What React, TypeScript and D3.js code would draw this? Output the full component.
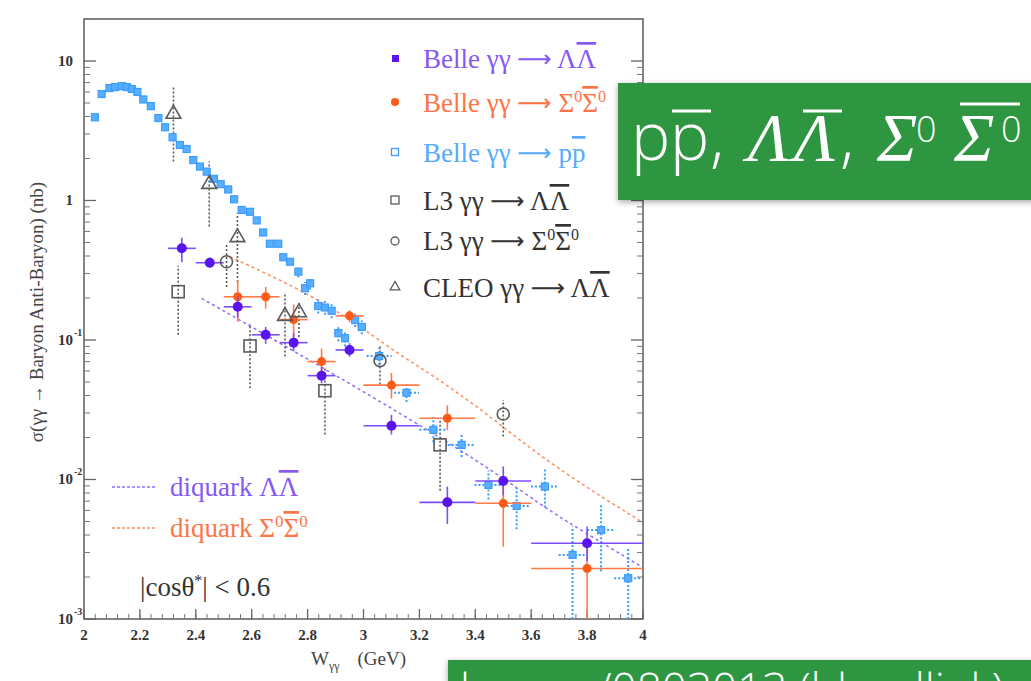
import React from "react";
import * as d3 from "d3";

// ---------- data ----------
const ppLowW = [2.039, 2.063, 2.091, 2.111, 2.135, 2.153, 2.171, 2.191, 2.212, 2.239, 2.266, 2.29, 2.317, 2.343, 2.367, 2.391, 2.415, 2.439, 2.465, 2.489, 2.516, 2.537, 2.564, 2.594, 2.618, 2.641, 2.665, 2.695, 2.713, 2.737];
const ppLowSigma = [3.95, 5.8, 6.4, 6.5, 6.6, 6.5, 6.3, 6.0, 5.3, 4.75, 3.9, 3.35, 2.84, 2.5, 2.34, 1.95, 1.75, 1.61, 1.43, 1.31, 1.2, 1.02, 0.855, 0.83, 0.72, 0.59, 0.49, 0.49, 0.392, 0.364];

const ppW = [2.767, 2.791, 2.809, 2.838, 2.862, 2.886, 2.91, 2.934, 2.97, 2.994, 3.056, 3.154, 3.25, 3.351, 3.447, 3.548, 3.649, 3.748, 3.85, 3.947];
const ppSigma = [0.309, 0.235, 0.255, 0.175, 0.171, 0.162, 0.112, 0.103, 0.139, 0.124, 0.0767, 0.0419, 0.0227, 0.0177, 0.00915, 0.00646, 0.0089, 0.00288, 0.00434, 0.00196];
const ppLo = [0.28, 0.21, 0.23, 0.155, 0.152, 0.143, 0.098, 0.09, 0.124, 0.11, 0.066, 0.036, 0.0185, 0.0145, 0.0072, 0.0044, 0.0063, 0.0008, 0.0022, 0.0008];
const ppHi = [0.34, 0.26, 0.28, 0.198, 0.19, 0.182, 0.127, 0.116, 0.155, 0.138, 0.088, 0.048, 0.028, 0.021, 0.0116, 0.0087, 0.0118, 0.0046, 0.0066, 0.0032];
const ppXErr = [0.0125, 0.0125, 0.0125, 0.0125, 0.0125, 0.0125, 0.0125, 0.0125, 0.0125, 0.0125, 0.045, 0.045, 0.05, 0.05, 0.05, 0.05, 0.05, 0.05, 0.05, 0.05];

const belleLamW = [2.35, 2.45, 2.55, 2.65, 2.75, 2.85, 2.95, 3.1, 3.3, 3.5, 3.8];
const belleLamSigma = [0.454, 0.358, 0.173, 0.109, 0.0957, 0.0555, 0.0848, 0.0243, 0.00686, 0.00975, 0.00349];
const belleLamLo = [0.362, 0.33, 0.145, 0.094, 0.083, 0.049, 0.076, 0.021, 0.0048, 0.0077, 0.0026];
const belleLamHi = [0.54, 0.39, 0.205, 0.124, 0.112, 0.064, 0.095, 0.029, 0.0089, 0.0124, 0.0046];
const belleLamBinLo = [2.3, 2.4, 2.5, 2.6, 2.7, 2.8, 2.9, 3.0, 3.2, 3.4, 3.6];
const belleLamBinHi = [2.4, 2.5, 2.6, 2.7, 2.8, 2.9, 3.0, 3.2, 3.4, 3.6, 4.0];

const belleSigW = [2.55, 2.65, 2.75, 2.85, 2.95, 3.1, 3.3, 3.5, 3.8];
const belleSigSigma = [0.204, 0.204, 0.14, 0.07, 0.149, 0.0475, 0.0275, 0.00675, 0.0023];
const belleSigLo = [0.135, 0.168, 0.105, 0.059, 0.134, 0.038, 0.0226, 0.0033, 0.0008];
const belleSigHi = [0.27, 0.24, 0.18, 0.087, 0.163, 0.058, 0.034, 0.0097, 0.0033];
const belleSigBinLo = [2.5, 2.6, 2.7, 2.8, 2.9, 3.0, 3.2, 3.4, 3.6];
const belleSigBinHi = [2.6, 2.7, 2.8, 2.9, 3.0, 3.2, 3.4, 3.6, 4.0];

const l3LamW = [2.337, 2.594, 2.862, 3.274];
const l3LamSigma = [0.222, 0.0906, 0.0433, 0.0177];
const l3LamLo = [0.109, 0.045, 0.021, 0.0083];
const l3LamHi = [0.34, 0.131, 0.064, 0.027];

const l3SigW = [2.51, 3.059, 3.5];
const l3SigSigma = [0.364, 0.0711, 0.0295];
const l3SigLo = [0.24, 0.048, 0.0203];
const l3SigHi = [0.48, 0.093, 0.0372];

const cleoW = [2.32, 2.448, 2.549, 2.719, 2.769];
const cleoSigma = [4.1, 1.29, 0.535, 0.146, 0.155];
const cleoLo = [1.9, 0.65, 0.26, 0.076, 0.105];
const cleoHi = [6.5, 1.9, 0.81, 0.22, 0.19];

const dqLamW = [2.421, 2.88, 3.393, 3.643, 3.786, 3.995];
const dqLamSigma = [0.199, 0.0593, 0.01455, 0.00638, 0.00423, 0.00237];
const dqSigW = [2.522, 2.761, 2.952, 3.119, 3.238, 3.441, 3.667, 3.995];
const dqSigSigma = [0.395, 0.238, 0.142, 0.0804, 0.0577, 0.0298, 0.0128, 0.00498];

const xTickValues = [2, 2.2, 2.4, 2.6, 2.8, 3, 3.2, 3.4, 3.6, 3.8, 4];
const xTickLabels = ["2", "2.2", "2.4", "2.6", "2.8", "3", "3.2", "3.4", "3.6", "3.8", "4"];
const yDecades = [1e-3, 1e-2, 1e-1, 1, 10];
const yDecadeExp = ["-3", "-2", "-1", "", ""];
const yDecadeBase = ["10", "10", "10", "1", "10"];

// ---------- colours ----------
const PURPLE = "#5a14ee";
const PURPLE_BAR = "#7c4dff";
const PURPLE_TXT = "#8658f5";
const ORANGE = "#ff5a16";
const ORANGE_BAR = "#ff7a48";
const ORANGE_TXT = "#ff7445";
const BLUE = "#3a9cff";
const BLUE_TXT = "#55abff";
const GREY = "#5a5a5a";
const GREEN = "#2f963f";

const SERIF = "'Liberation Serif', 'DejaVu Serif', serif";
const SANS = "'Open Sans', 'Lato', 'Liberation Sans', sans-serif";
const ARROW_FONT = "'DejaVu Sans', sans-serif";

function Arrow() {
  return (
    <tspan fontFamily={ARROW_FONT} fontSize={24} dy={-1}>
      ⟶
    </tspan>
  );
}

export default function App() {
  const x = d3.scaleLinear().domain([2, 4]).range([84, 643]);
  const y = d3.scaleLog().domain([1e-3, 20]).range([619, 19]).clamp(true);
  const [x0, x1] = x.range();
  const [yb, yt] = y.range();

  const minorY: number[] = [];
  yDecades.forEach((d) => {
    for (let m = 2; m <= 9; m++) if (d * m <= 20) minorY.push(d * m);
  });
  const minorX = d3.range(0, 51).map((i) => 2 + i * 0.04);

  const lineGen = d3
    .line<[number, number]>()
    .x((d) => x(d[0]))
    .y((d) => y(d[1]))
    .curve(d3.curveBasis);

  const dqLamPath = lineGen(dqLamW.map((w, i) => [w, dqLamSigma[i]]));
  const dqSigPath = lineGen(dqSigW.map((w, i) => [w, dqSigSigma[i]]));
  const tri = d3.symbol(d3.symbolTriangle, 95)() as string;
  const triSmall = d3.symbol(d3.symbolTriangle, 40)() as string;

  return (
    <div style={{ position: "fixed", left: 0, top: 0 }}>
      <svg width={1031} height={681} style={{ display: "block", background: "#fff" }}>
        <defs>
          <filter id="shadow" x="-10%" y="-20%" width="130%" height="150%">
            <feDropShadow dx="0" dy="2" stdDeviation="3" floodColor="#000" floodOpacity="0.35" />
          </filter>
          <clipPath id="plotclip">
            <rect x={x0} y={yt} width={x1 - x0} height={yb - yt} />
          </clipPath>
        </defs>

        {/* frame */}
        <rect x={x0} y={yt} width={x1 - x0} height={yb - yt} fill="none" stroke="#666" strokeWidth={1.6} />

        {/* y ticks */}
        {yDecades.map((d, i) => (
          <g key={"yd" + i}>
            <line x1={x0} x2={x0 + 12} y1={y(d)} y2={y(d)} stroke="#666" strokeWidth={1.3} />
            <line x1={x1} x2={x1 - 12} y1={y(d)} y2={y(d)} stroke="#666" strokeWidth={1.3} />
            <text x={73} y={y(d) + 5} textAnchor="end" fontFamily={SERIF} fontWeight="bold" fontSize={15} fill="#333">
              {yDecadeBase[i]}
            </text>
            {yDecadeExp[i] && (
              <text x={74} y={y(d) - 4} fontFamily={SERIF} fontWeight="bold" fontSize={10} fill="#333">
                {yDecadeExp[i]}
              </text>
            )}
          </g>
        ))}
        {minorY.map((d, i) => (
          <g key={"ym" + i}>
            <line x1={x0} x2={x0 + 6} y1={y(d)} y2={y(d)} stroke="#777" strokeWidth={1} />
            <line x1={x1} x2={x1 - 6} y1={y(d)} y2={y(d)} stroke="#777" strokeWidth={1} />
          </g>
        ))}

        {/* x ticks */}
        {minorX.map((v, i) => (
          <line key={"xm" + i} x1={x(v)} x2={x(v)} y1={yb} y2={yb - 5} stroke="#777" strokeWidth={1} />
        ))}
        {xTickValues.map((v, i) => (
          <g key={"xt" + i}>
            <line x1={x(v)} x2={x(v)} y1={yb} y2={yb - 10} stroke="#666" strokeWidth={1.3} />
            <text x={x(v)} y={640} textAnchor="middle" fontFamily={SERIF} fontWeight="bold" fontSize={15} fill="#333">
              {xTickLabels[i]}
            </text>
          </g>
        ))}

        {/* axis titles */}
        <text x={311} y={665} fontFamily={SERIF} fontSize={19} fill="#444">
          W
          <tspan dy={5} fontSize={12}>γγ</tspan>
          <tspan dy={-5} dx={18}>(GeV)</tspan>
        </text>
        <text
          transform="translate(43,312) rotate(-90)"
          textAnchor="middle"
          fontFamily={SERIF}
          fontSize={19}
          fill="#444"
        >
          σ(γγ → Baryon Anti-Baryon)  (nb)
        </text>

        <g clipPath="url(#plotclip)">
          {/* diquark lines */}
          <path d={dqSigPath || ""} fill="none" stroke="#ff8a5c" strokeWidth={1.5} strokeDasharray="3 3" />
          <path d={dqLamPath || ""} fill="none" stroke="#8f6bff" strokeWidth={1.5} strokeDasharray="3 3" />

          {/* grey (L3 / CLEO) error bars */}
          {l3LamW.map((w, i) => (
            <line key={"l3le" + i} x1={x(w)} x2={x(w)} y1={y(l3LamLo[i])} y2={y(l3LamHi[i])} stroke={GREY} strokeWidth={1.6} strokeDasharray="2 2" />
          ))}
          {l3SigW.map((w, i) => (
            <line key={"l3se" + i} x1={x(w)} x2={x(w)} y1={y(l3SigLo[i])} y2={y(l3SigHi[i])} stroke={GREY} strokeWidth={1.6} strokeDasharray="2 2" />
          ))}
          {cleoW.map((w, i) => (
            <line key={"cle" + i} x1={x(w)} x2={x(w)} y1={y(cleoLo[i])} y2={y(cleoHi[i])} stroke={GREY} strokeWidth={1.6} strokeDasharray="2 2" />
          ))}

          {/* pp low W markers */}
          {ppLowW.map((w, i) => (
            <rect key={"ppl" + i} x={x(w) - 3.5} y={y(ppLowSigma[i]) - 3.5} width={7} height={7} fill="#5aaeff" stroke={BLUE} strokeWidth={1.2} />
          ))}
          {/* pp with errors */}
          {ppW.map((w, i) => (
            <g key={"pph" + i}>
              <line x1={x(w)} x2={x(w)} y1={y(ppLo[i])} y2={y(ppHi[i])} stroke={BLUE} strokeWidth={2} strokeDasharray="2 2" />
              <line x1={x(w - ppXErr[i])} x2={x(w + ppXErr[i])} y1={y(ppSigma[i])} y2={y(ppSigma[i])} stroke={BLUE} strokeWidth={2} strokeDasharray="2 2" />
              <rect x={x(w) - 3.5} y={y(ppSigma[i]) - 3.5} width={7} height={7} fill="#5aaeff" stroke={BLUE} strokeWidth={1.2} />
            </g>
          ))}

          {/* Belle Sigma */}
          {belleSigW.map((w, i) => (
            <g key={"bs" + i}>
              <line x1={x(w)} x2={x(w)} y1={y(belleSigLo[i])} y2={y(belleSigHi[i])} stroke={ORANGE_BAR} strokeWidth={1.6} />
              <line x1={x(belleSigBinLo[i])} x2={x(belleSigBinHi[i])} y1={y(belleSigSigma[i])} y2={y(belleSigSigma[i])} stroke={ORANGE_BAR} strokeWidth={1.6} />
              <circle cx={x(w)} cy={y(belleSigSigma[i])} r={4.5} fill={ORANGE} />
            </g>
          ))}

          {/* Belle Lambda */}
          {belleLamW.map((w, i) => (
            <g key={"bl" + i}>
              <line x1={x(w)} x2={x(w)} y1={y(belleLamLo[i])} y2={y(belleLamHi[i])} stroke={PURPLE_BAR} strokeWidth={1.6} />
              <line x1={x(belleLamBinLo[i])} x2={x(belleLamBinHi[i])} y1={y(belleLamSigma[i])} y2={y(belleLamSigma[i])} stroke={PURPLE_BAR} strokeWidth={1.6} />
              <circle cx={x(w)} cy={y(belleLamSigma[i])} r={5} fill={PURPLE} />
            </g>
          ))}

          {/* L3 / CLEO markers */}
          {l3LamW.map((w, i) => (
            <rect key={"l3l" + i} x={x(w) - 6} y={y(l3LamSigma[i]) - 6} width={12} height={12} fill="none" stroke={GREY} strokeWidth={1.6} />
          ))}
          {l3SigW.map((w, i) => (
            <circle key={"l3s" + i} cx={x(w)} cy={y(l3SigSigma[i])} r={6} fill="none" stroke={GREY} strokeWidth={1.6} />
          ))}
          {cleoW.map((w, i) => (
            <path key={"cl" + i} d={tri} transform={`translate(${x(w)},${y(cleoSigma[i]) - 1})`} fill="none" stroke={GREY} strokeWidth={1.6} />
          ))}
        </g>

        {/* legend */}
        <g fontFamily={SERIF} fontSize={27}>
          <rect x={392} y={55} width={7} height={7} fill={PURPLE} />
          <text x={423} y={68} fill={PURPLE_TXT}>
            Belle γγ <Arrow /><tspan dy={1}> Λ</tspan><tspan textDecoration="overline">Λ</tspan>
          </text>
          <circle cx={395} cy={102} r={4} fill={ORANGE} />
          <text x={423} y={112} fill={ORANGE_TXT}>
            Belle γγ <Arrow /><tspan dy={1}> Σ</tspan><tspan dy={-10} fontSize={16}>0</tspan>
            <tspan dy={10} textDecoration="overline">Σ</tspan>
            <tspan dy={-10} fontSize={16}>0</tspan>
          </text>
          <rect x={391.5} y={148.5} width={7} height={7} fill="none" stroke={BLUE} strokeWidth={1.3} />
          <text x={423} y={162} fill={BLUE_TXT}>
            Belle γγ <Arrow /><tspan dy={1}> p</tspan><tspan textDecoration="overline">p</tspan>
          </text>
          <rect x={391} y={196} width={8} height={8} fill="none" stroke={GREY} strokeWidth={1.3} />
          <text x={423} y={210} fill="#333">
            L3 γγ <Arrow /><tspan dy={1}> Λ</tspan><tspan textDecoration="overline">Λ</tspan>
          </text>
          <circle cx={395} cy={241} r={4} fill="none" stroke={GREY} strokeWidth={1.3} />
          <text x={423} y={250} fill="#333">
            L3 γγ <Arrow /><tspan dy={1}> Σ</tspan><tspan dy={-10} fontSize={16}>0</tspan>
            <tspan dy={10} textDecoration="overline">Σ</tspan>
            <tspan dy={-10} fontSize={16}>0</tspan>
          </text>
          <path d={triSmall} transform="translate(395,287)" fill="none" stroke={GREY} strokeWidth={1.3} />
          <text x={423} y={297} fill="#333">
            CLEO γγ <Arrow /><tspan dy={1}> Λ</tspan><tspan textDecoration="overline">Λ</tspan>
          </text>
        </g>

        {/* diquark legend */}
        <line x1={112} x2={155} y1={487} y2={487} stroke="#8f6bff" strokeWidth={1.3} strokeDasharray="3 2" />
        <line x1={112} x2={155} y1={528} y2={528} stroke="#ff8a5c" strokeWidth={1.3} strokeDasharray="3 2" />
        <text x={170} y={496} fontFamily={SERIF} fontSize={27} fill={PURPLE_TXT}>
          diquark Λ<tspan textDecoration="overline">Λ</tspan>
        </text>
        <text x={170} y={537} fontFamily={SERIF} fontSize={27} fill={ORANGE_TXT}>
          diquark Σ<tspan dy={-10} fontSize={17}>0</tspan>
          <tspan dy={10} textDecoration="overline">Σ</tspan>
          <tspan dy={-10} fontSize={17}>0</tspan>
        </text>
        <text x={140} y={596} fontFamily={SERIF} fontSize={27} fill="#333">
          |cosθ<tspan dy={-10} fontSize={16}>*</tspan>
          <tspan dy={10}>| &lt; 0.6</tspan>
        </text>

        {/* green title box */}
        <g filter="url(#shadow)">
          <rect x={618} y={83} width={420} height={117} fill={GREEN} />
        </g>
        <g fill="#fff">
          <text x={631} y={160} fontFamily={SANS} fontWeight={300} fontSize={66}>p</text>
          <text x={670} y={160} fontFamily={SANS} fontWeight={300} fontSize={66}>p</text>
          <text x={710} y={160} fontFamily={SANS} fontWeight={300} fontSize={66}>,</text>
          <text x={748} y={160} fontFamily={SERIF} fontStyle="italic" fontSize={68}>Λ</text>
          <text x={794} y={160} fontFamily={SERIF} fontStyle="italic" fontSize={68}>Λ</text>
          <text x={840} y={160} fontFamily={SANS} fontWeight={300} fontSize={66}>,</text>
          <text x={877} y={160} fontFamily={SERIF} fontStyle="italic" fontSize={68}>Σ</text>
          <text x={916} y={142} fontFamily={SANS} fontWeight={300} fontSize={36}>0</text>
          <text x={954} y={160} fontFamily={SERIF} fontStyle="italic" fontSize={68}>Σ</text>
          <text x={1001} y={142} fontFamily={SANS} fontWeight={300} fontSize={36}>0</text>
        </g>
        <g stroke="#fff" strokeWidth={3}>
          <line x1={672} x2={711} y1={111} y2={111} />
          <line x1={803} x2={842} y1={111} y2={111} />
          <line x1={960} x2={1020} y1={104} y2={104} />
        </g>

        {/* bottom green box */}
        <g filter="url(#shadow)">
          <rect x={448} y={660} width={600} height={40} fill={GREEN} />
        </g>
        <text x={460} y={705} fontFamily={SANS} fontWeight={300} fontSize={44} fill="#fff">
          hep-ex/0803013 (bloodlink)
        </text>
      </svg>
    </div>
  );
}
